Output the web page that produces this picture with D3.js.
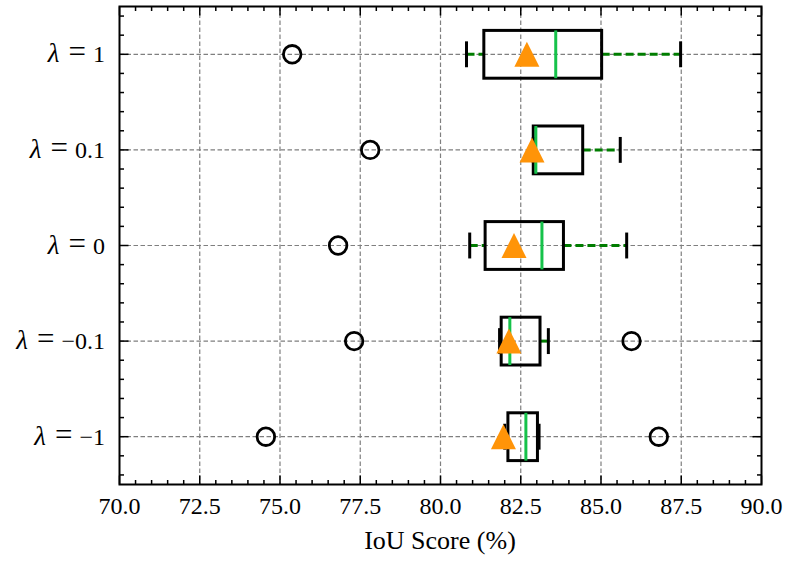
<!DOCTYPE html>
<html>
<head>
<meta charset="utf-8">
<script src="https://cdn.jsdelivr.net/npm/d3@7"></script>
<style>
  body { margin: 0; background: #fff; }
</style>
</head>
<body>
<div class="container"></div>
<script>
// rows from bottom (pos 1) to top (pos 5)
let lambdas = ["\u22121", "\u22120.1", "0", "0.1", "1"]
let q1 = [82.10, 81.89, 81.39, 82.89, 81.35]
let medians = [82.66, 82.16, 83.16, 82.97, 83.59]
let q3 = [83.02, 83.10, 83.83, 84.43, 85.02]
let whiskLo = [82.00, 81.84, 80.91, 82.89, 80.81]
let whiskHi = [83.07, 83.36, 85.80, 85.60, 87.48]
let means = [81.96, 82.13, 82.29, 82.85, 82.69]
let outliers = [[74.56, 86.80], [77.31, 85.95], [76.81], [77.81], [75.38]]
let xTicks = [70, 72.5, 75, 77.5, 80, 82.5, 85, 87.5, 90]

let width = 788
let height = 561
let pLeft = 119.5, pRight = 761.5, pTop = 6.5, pBottom = 484.5
let serif = "'Liberation Serif'"

let svg = d3.select(".container")
  .append("svg")
  .attr("width", width)
  .attr("height", height)

let x = d3.scaleLinear().domain([70, 90]).range([pLeft, pRight])
let y = d3.scaleLinear().domain([0.5, 5.5]).range([pBottom, pTop])

let rows = lambdas.map(function (l, i) {
  return { label: l, pos: i + 1, q1: q1[i], med: medians[i], q3: q3[i],
    lo: whiskLo[i], hi: whiskHi[i], mean: means[i], out: outliers[i] }
})

// grid
let grid = svg.append("g").attr("class", "grid")
  .attr("stroke", "#7f7f7f")
  .attr("stroke-width", 1.2)
  .attr("stroke-dasharray", "4.5,2.5")
grid.selectAll(".gx")
  .data(xTicks.slice(1, -1))
  .enter()
  .append("line")
  .attr("x1", function (d) { return x(d) })
  .attr("x2", function (d) { return x(d) })
  .attr("y1", pTop)
  .attr("y2", pBottom)
grid.selectAll(".gy")
  .data(rows)
  .enter()
  .append("line")
  .attr("x1", pLeft)
  .attr("x2", pRight)
  .attr("y1", function (d) { return y(d.pos) })
  .attr("y2", function (d) { return y(d.pos) })

let half = (y(0) - y(0.5)) / 2   // box half height (width 0.5)
let cap = half / 2 + 1

let boxes = svg.selectAll(".box")
  .data(rows)
  .enter()
  .append("g")
  .attr("class", "box")
  .attr("transform", function (d) { return "translate(0," + y(d.pos) + ")" })

// whiskers
boxes.append("line")
  .attr("x1", function (d) { return x(d.lo) })
  .attr("x2", function (d) { return x(d.q1) })
  .attr("stroke", "#007d00")
  .attr("stroke-width", 3)
  .attr("stroke-dasharray", "8,4")
boxes.append("line")
  .attr("x1", function (d) { return x(d.q3) })
  .attr("x2", function (d) { return x(d.hi) })
  .attr("stroke", "#007d00")
  .attr("stroke-width", 3)
  .attr("stroke-dasharray", "8,4")

// caps
boxes.selectAll(".cap")
  .data(function (d) { return [d.lo, d.hi] })
  .enter()
  .append("line")
  .attr("x1", function (d) { return x(d) })
  .attr("x2", function (d) { return x(d) })
  .attr("y1", -cap)
  .attr("y2", cap)
  .attr("stroke", "black")
  .attr("stroke-width", 3)

boxes.append("rect")
  .attr("x", function (d) { return x(d.q1) })
  .attr("width", function (d) { return x(d.q3) - x(d.q1) })
  .attr("y", -half)
  .attr("height", 2 * half)
  .attr("fill", "none")
  .attr("stroke", "black")
  .attr("stroke-width", 3)

boxes.append("line")
  .attr("x1", function (d) { return x(d.med) })
  .attr("x2", function (d) { return x(d.med) })
  .attr("y1", -half)
  .attr("y2", half)
  .attr("stroke", "#16c24a")
  .attr("stroke-width", 3)

// outliers
boxes.selectAll(".flier")
  .data(function (d) { return d.out })
  .enter()
  .append("circle")
  .attr("cx", function (d) { return x(d) })
  .attr("cy", 0)
  .attr("r", 8.8)
  .attr("fill", "none")
  .attr("stroke", "black")
  .attr("stroke-width", 2.8)

// means
let t = 12.5
boxes.append("path")
  .attr("d", "M0," + (-t) + "L" + (-t) + "," + t + "L" + t + "," + t + "Z")
  .attr("transform", function (d) { return "translate(" + x(d.mean) + ",0)" })
  .attr("fill", "#ff9408")

// frame and ticks
let axes = svg.append("g").attr("stroke", "black")
let minorX = d3.range(70, 90.01, 0.5).filter(function (v) { return Math.abs(v / 2.5 - Math.round(v / 2.5)) > 1e-6 })
let minorY = d3.range(0.6, 5.41, 0.2).filter(function (v) { return Math.abs(v - Math.round(v)) > 1e-6 })

function tickSet(vals, len, horizontal) {
  vals.forEach(function (v) {
    if (horizontal) {
      axes.append("line").attr("x1", x(v)).attr("x2", x(v)).attr("y1", pBottom).attr("y2", pBottom - len).attr("stroke-width", 1.5)
      axes.append("line").attr("x1", x(v)).attr("x2", x(v)).attr("y1", pTop).attr("y2", pTop + len).attr("stroke-width", 1.5)
    } else {
      axes.append("line").attr("y1", y(v)).attr("y2", y(v)).attr("x1", pLeft).attr("x2", pLeft + len).attr("stroke-width", 1.5)
      axes.append("line").attr("y1", y(v)).attr("y2", y(v)).attr("x1", pRight).attr("x2", pRight - len).attr("stroke-width", 1.5)
    }
  })
}
tickSet(xTicks, 9, true)
tickSet(minorX, 4.5, true)
tickSet(rows.map(function (d) { return d.pos }), 9, false)
tickSet(minorY, 4.5, false)

axes.append("rect")
  .attr("x", pLeft).attr("y", pTop)
  .attr("width", pRight - pLeft).attr("height", pBottom - pTop)
  .attr("fill", "none")
  .attr("stroke-width", 2)

// tick labels
svg.selectAll(".xl")
  .data(xTicks)
  .enter()
  .append("text")
  .attr("x", function (d) { return x(d) })
  .attr("y", 514)
  .attr("text-anchor", "middle")
  .attr("font-family", serif)
  .attr("font-size", "24px")
  .text(function (d) { return d3.format(".1f")(d) })

let yl = svg.selectAll(".yl")
  .data(rows)
  .enter()
  .append("text")
  .attr("x", 105)
  .attr("y", function (d) { return y(d.pos) + 8 })
  .attr("text-anchor", "end")
  .attr("font-family", serif)
  .attr("font-size", "24px")
yl.append("tspan").attr("font-style", "italic").attr("font-size", "27px").text("\u03bb")
yl.append("tspan").attr("dx", 9).attr("font-size", "31px").text("=")
yl.append("tspan").attr("dx", 7).text(function (d) { return d.label })

svg.append("text")
  .attr("x", 440)
  .attr("y", 549)
  .attr("text-anchor", "middle")
  .attr("font-family", serif)
  .attr("font-size", "26px")
  .text("IoU Score (%)")
</script>
</body>
</html>
